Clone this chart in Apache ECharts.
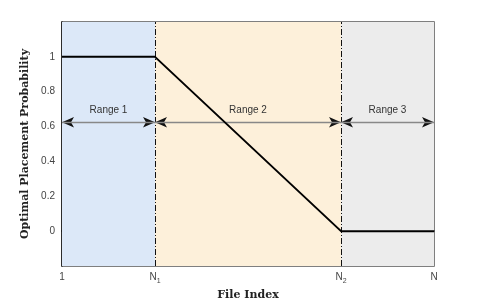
<!DOCTYPE html>
<html><head><meta charset="utf-8">
<script src="https://cdn.jsdelivr.net/npm/echarts@6/dist/echarts.min.js"></script>
<style>html,body{margin:0;padding:0;background:#fff}#c{width:480px;height:300px}</style>
</head><body><div id="c"></div>
<script>
// x positions: 0 -> "1", 1 -> N1, 3 -> N2, 4 -> N
const xTickValues = [0, 1, 3, 4];
const xTickLabels = ['{n|1}', '{n|N}{s|1}', '{n|N}{s|2}', '{n|N}'];
const yTickValues = [0, 0.2, 0.4, 0.6, 0.8, 1];
const probX = [0, 1, 3, 4];
const probY = [1, 1, 0, 0];
const rangeNames = ['Range 1', 'Range 2', 'Range 3'];
const rangeStart = [0, 1, 3];
const rangeEnd = [1, 3, 4];
const rangeColors = ['#dce8f8', '#fdf0da', '#ececec'];
const arrowY = 0.625;
const boundaries = [1, 3];

const chart = echarts.init(document.getElementById('c'), null, {renderer: 'canvas'});
const axisFont = 'Liberation Sans, Arial, sans-serif';
const serif = 'DejaVu Serif, Liberation Serif, serif';

const areas = rangeStart.map((s, i) => [
  {xAxis: s, yAxis: -0.2, itemStyle: {color: rangeColors[i]}},
  {xAxis: rangeEnd[i], yAxis: 1.2}
]);
const arrowLines = rangeStart.map((s, i) => [
  {coord: [s, arrowY]}, {coord: [rangeEnd[i], arrowY]}
]);
const grayLines = rangeStart.map((s, i) => [
  {coord: [s, arrowY], label: {formatter: rangeNames[i]}}, {coord: [rangeEnd[i], arrowY]}
]);
const vLines = boundaries.map(b => [{coord: [b, -0.2]}, {coord: [b, 1.2]}]);

chart.setOption({
  animation: false,
  grid: {left: 62, right: 46, top: 22, bottom: 34, outerBoundsMode: 'none', containLabel: false,
    show: true, borderColor: '#555', borderWidth: 1.5, backgroundColor: 'transparent'},
  xAxis: {
    type: 'value', min: 0, max: 4, interval: 1,
    name: 'File Index', nameLocation: 'middle', nameGap: 19,
    nameTextStyle: {fontFamily: serif, fontWeight: 'bold', fontSize: 11, color: '#222'},
    axisLine: {show: true, lineStyle: {color: '#111', width: 1.5}},
    axisTick: {show: false},
    splitLine: {show: false},
    axisLabel: {
      margin: 6, color: '#444', fontFamily: axisFont, fontSize: 10, verticalAlign: 'top',
      formatter: v => { const k = xTickValues.indexOf(v); return k >= 0 ? xTickLabels[k] : ''; },
      rich: {
        n: {fontSize: 10, color: '#444', fontFamily: axisFont, verticalAlign: 'top', lineHeight: 12},
        s: {fontSize: 7, color: '#444', fontFamily: axisFont, verticalAlign: 'top', lineHeight: 12, padding: [6, 0, 0, 0]}
      }
    }
  },
  yAxis: {
    type: 'value', min: -0.2, max: 1.2, interval: 0.2,
    name: 'Optimal Placement Probability', nameLocation: 'middle', nameGap: 30,
    nameTextStyle: {fontFamily: serif, fontWeight: 'bold', fontSize: 11, color: '#222'},
    axisLine: {show: true, lineStyle: {color: '#111', width: 1.5}},
    axisTick: {show: false},
    splitLine: {show: false},
    axisLabel: {
      margin: 7, color: '#444', fontFamily: axisFont, fontSize: 10,
      formatter: v => { const r = Math.round(v * 10) / 10; return yTickValues.some(t => Math.abs(t - r) < 1e-6) ? String(r) : ''; }
    }
  },
  series: [
    {
      type: 'line', data: [], silent: true,
      markArea: {silent: true, data: areas}
    },
    {
      type: 'line', data: [], silent: true,
      markLine: {silent: true, symbol: ['none', 'none'], label: {show: false},
        lineStyle: {color: '#111', width: 1, type: [6, 2, 1, 2]}, data: vLines}
    },
    {
      type: 'line', data: [], silent: true,
      markLine: {silent: true, symbol: ['arrow', 'arrow'], symbolSize: [8, 12], label: {show: false},
        lineStyle: {color: '#111', width: 1.2, type: 'solid'}, data: arrowLines}
    },
    {
      type: 'line', data: [], silent: true,
      markLine: {silent: true, symbol: ['none', 'none'],
        label: {show: true, position: 'middle', distance: 7, color: '#333', fontFamily: axisFont, fontSize: 10},
        lineStyle: {color: '#888', width: 1.3, type: 'solid'}, data: grayLines}
    },
    {
      type: 'line', data: probX.map((x, i) => [x, probY[i]]), symbol: 'none',
      lineStyle: {color: '#000', width: 2}, z: 5
    }
  ]
});
</script></body></html>
